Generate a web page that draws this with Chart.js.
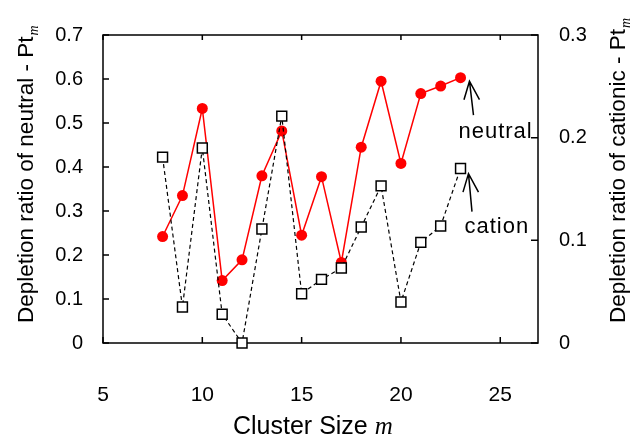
<!DOCTYPE html>
<html lang="en">
<head>
<meta charset="UTF-8">
<title>Depletion ratio vs cluster size</title>
<script src="https://cdn.jsdelivr.net/npm/chart.js"></script>
<style>
    body { margin: 0; background: #fff; }
    #wrap { width: 634px; height: 437px; }
</style>
</head>
<body>
<div id="wrap"><canvas id="depletionChart" width="634" height="437"></canvas></div>
<script>
// values
const clusterSizes = [8, 9, 10, 11, 12, 13, 14, 15, 16, 17, 18, 19, 20, 21, 22, 23];
const neutralRatio = [0.242, 0.335, 0.533, 0.142, 0.189, 0.380, 0.482, 0.245, 0.378, 0.183, 0.445, 0.595, 0.408, 0.567, 0.584, 0.603];
const cationRatio  = [0.181, 0.035, 0.190, 0.028, 0.000, 0.111, 0.221, 0.048, 0.062, 0.073, 0.113, 0.153, 0.040, 0.098, 0.114, 0.170];

const xTicks = [5, 10, 15, 20, 25];
const leftTicks = [0, 0.1, 0.2, 0.3, 0.4, 0.5, 0.6, 0.7];
const rightTicks = [0, 0.1, 0.2, 0.3];

const SANS = '"Liberation Sans", Arial, sans-serif';
const SERIF = '"Liberation Serif", "Times New Roman", serif';

function setTicks(list) {
    return function(scale) {
        scale.ticks = list.map(v => ({ value: v }));
    };
}

// box + inward tick marks, drawn under the markers
const framePlugin = {
    id: 'frame',
    beforeDatasetsDraw(chart) {
        const { ctx, chartArea: a, scales } = chart;
        ctx.save();
        ctx.strokeStyle = '#000';
        ctx.lineWidth = 1.5;
        ctx.strokeRect(a.left, a.top, a.right - a.left, a.bottom - a.top);
        ctx.beginPath();
        scales.x.ticks.forEach(t => {
            const px = scales.x.getPixelForValue(t.value);
            ctx.moveTo(px, a.bottom); ctx.lineTo(px, a.bottom - 6);
            ctx.moveTo(px, a.top); ctx.lineTo(px, a.top + 5);
        });
        scales.y.ticks.forEach(t => {
            const py = scales.y.getPixelForValue(t.value);
            ctx.moveTo(a.left, py); ctx.lineTo(a.left + 6, py);
        });
        scales.y2.ticks.forEach(t => {
            const py = scales.y2.getPixelForValue(t.value);
            ctx.moveTo(a.right, py); ctx.lineTo(a.right - 7, py);
        });
        ctx.stroke();
        ctx.restore();
    }
};

function drawArrow(ctx, x, y, dx, dy) {
    ctx.beginPath();
    ctx.moveTo(x + dx, y + dy);
    ctx.lineTo(x, y);
    ctx.moveTo(x - 5.5, y + 18.5);
    ctx.lineTo(x, y);
    ctx.lineTo(x + 10, y + 18.5);
    ctx.stroke();
}

// axis titles and the two labels with arrows
const textPlugin = {
    id: 'texts',
    afterDraw(chart) {
        const { ctx, scales } = chart;
        ctx.save();
        ctx.fillStyle = '#000';
        ctx.textBaseline = 'alphabetic';
        ctx.textAlign = 'left';

        // left title
        ctx.save();
        ctx.translate(33, 323);
        ctx.rotate(-Math.PI / 2);
        ctx.font = '22.5px ' + SANS;
        let s = 'Depletion ratio of neutral - Pt';
        ctx.fillText(s, 0, 0);
        let w = ctx.measureText(s).width;
        ctx.font = 'italic 14px ' + SERIF;
        ctx.fillText('m', w + 1, 5);
        ctx.restore();

        // right title
        ctx.save();
        ctx.translate(625, 323);
        ctx.rotate(-Math.PI / 2);
        ctx.font = '22.5px ' + SANS;
        s = 'Depletion ratio of cationic - Pt';
        ctx.fillText(s, 0, 0);
        w = ctx.measureText(s).width;
        ctx.font = 'italic 14px ' + SERIF;
        ctx.fillText('m', w + 1, 5);
        ctx.restore();

        // x title
        ctx.font = '25px ' + SANS;
        s = 'Cluster Size ';
        ctx.fillText(s, 233, 434);
        w = ctx.measureText(s).width;
        ctx.font = 'italic 25px ' + SERIF;
        ctx.fillText('m', 233 + w, 434);

        // arrows
        ctx.strokeStyle = '#000';
        ctx.lineWidth = 1.5;
        const nx = scales.x.getPixelForValue(23.45), ny = scales.y.getPixelForValue(0.595);
        const cx = scales.x.getPixelForValue(23.4), cy = scales.y2.getPixelForValue(0.165);
        drawArrow(ctx, nx, ny, 4, 34);
        drawArrow(ctx, cx, cy, 3.5, 38);

        ctx.font = '22px ' + SANS;
        ctx.letterSpacing = '1px';
        ctx.fillText('neutral', nx - 11, ny + 56.5);
        ctx.fillText('cation', cx - 4, cy + 59.5);
        ctx.restore();
    }
};

new Chart(document.getElementById('depletionChart'), {
    type: 'line',
    data: {
        labels: clusterSizes,
        datasets: [
            {
                label: 'cation',
                data: clusterSizes.map((m, i) => ({ x: m, y: cationRatio[i] })),
                yAxisID: 'y2',
                borderColor: '#000',
                borderWidth: 1.2,
                borderDash: [4, 3],
                pointStyle: 'rect',
                pointRadius: 7,
                pointBackgroundColor: '#fff',
                pointBorderColor: '#000',
                pointBorderWidth: 1.5,
                tension: 0,
                clip: false
            },
            {
                label: 'neutral',
                data: clusterSizes.map((m, i) => ({ x: m, y: neutralRatio[i] })),
                yAxisID: 'y',
                borderColor: '#ff0000',
                borderWidth: 1.5,
                pointStyle: 'circle',
                pointRadius: 5.5,
                pointBackgroundColor: '#ff0000',
                pointBorderColor: '#ff0000',
                pointBorderWidth: 0,
                tension: 0,
                clip: false
            }
        ]
    },
    options: {
        responsive: false,
        animation: false,
        events: [],
        layout: { padding: { top: 35, left: 0, right: 0, bottom: 0 } },
        plugins: {
            legend: { display: false },
            tooltip: { enabled: false }
        },
        scales: {
            x: {
                type: 'linear',
                min: 5,
                max: 26.9,
                afterBuildTicks: setTicks(xTicks),
                afterFit(scale) { scale.height = 94; },
                grid: { display: false, drawTicks: false },
                border: { display: false },
                ticks: {
                    padding: 40,
                    color: '#000',
                    font: { family: SANS, size: 21 },
                    maxRotation: 0,
                    callback: v => String(v)
                }
            },
            y: {
                position: 'left',
                min: 0,
                max: 0.7,
                afterBuildTicks: setTicks(leftTicks),
                afterFit(scale) { scale.width = 103; },
                grid: { display: false, drawTicks: false },
                border: { display: false },
                ticks: {
                    padding: 20,
                    color: '#000',
                    font: { family: SANS, size: 20 },
                    callback: v => String(v)
                }
            },
            y2: {
                position: 'right',
                min: 0,
                max: 0.3,
                afterBuildTicks: setTicks(rightTicks),
                afterFit(scale) { scale.width = 96; },
                grid: { display: false, drawTicks: false },
                border: { display: false },
                ticks: {
                    padding: 21,
                    color: '#000',
                    font: { family: SANS, size: 20 },
                    callback: v => String(v)
                }
            }
        }
    },
    plugins: [framePlugin, textPlugin]
});
</script>
</body>
</html>
